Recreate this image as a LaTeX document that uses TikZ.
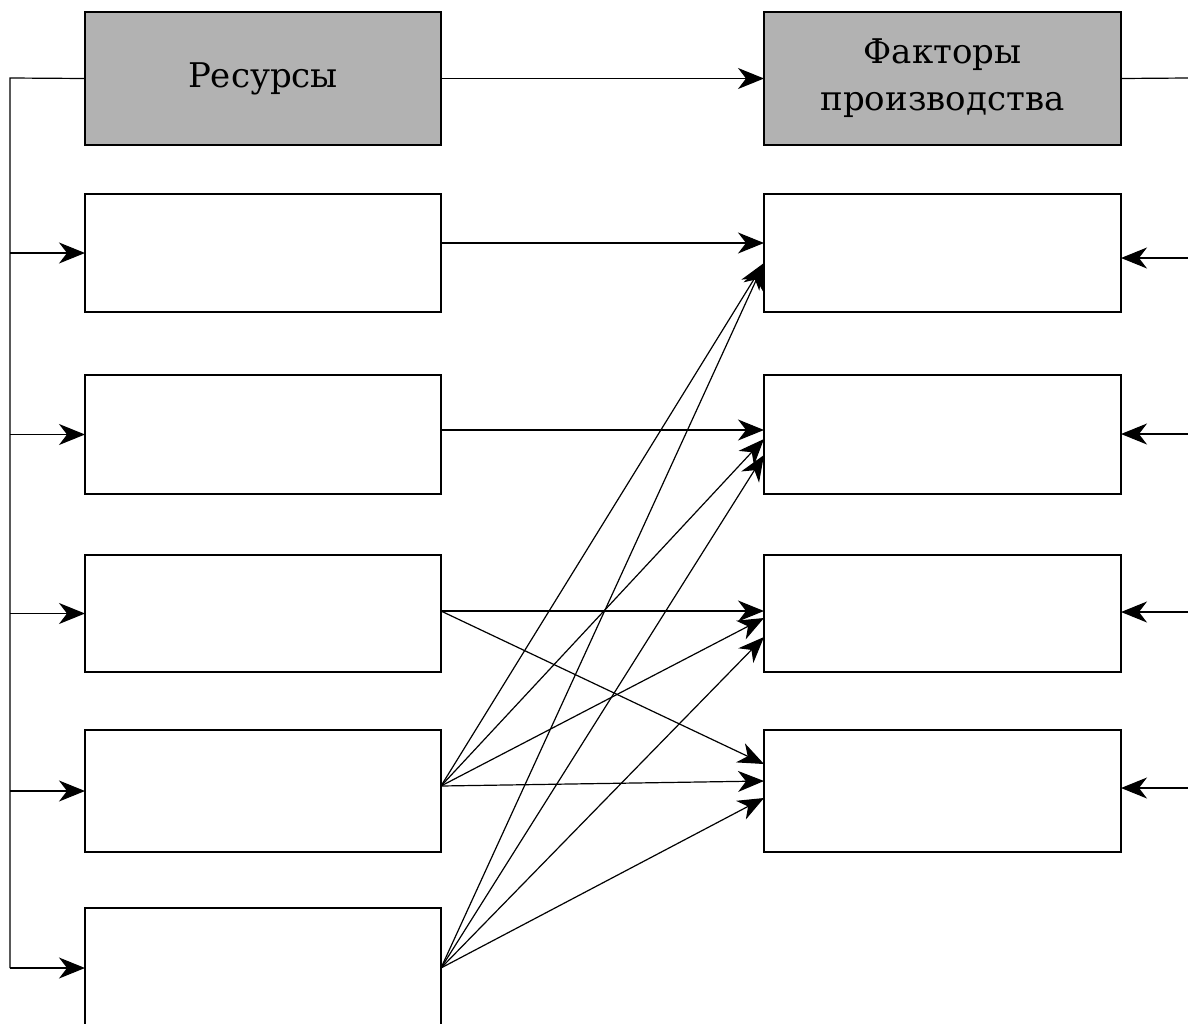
\documentclass[tikz,border=0pt]{standalone}
\usepackage{fontspec}
\setmainfont{DejaVu Serif}
\usetikzlibrary{arrows.meta}
\begin{document}
\begin{tikzpicture}[x=1pt,y=-1pt,
  box/.style={draw=black, line width=1.1pt, fill=white, minimum width=356pt, inner sep=0pt, outer sep=0pt},
  head/.style={draw=black, line width=1.1pt, fill=black!30, minimum width=356pt, inner sep=0pt, outer sep=0pt, align=center,
    font=\fontsize{34}{47}\selectfont},
  con/.style={line width=1.2pt},
  arr/.style={con, -{Stealth[length=26pt, width=21pt, inset=8pt]}}]
\useasboundingbox (0,0) rectangle (1188,1023);
\clip (0,0) rectangle (1188,1023);
% left column
\node[head, minimum height=133pt] (L1) at (263,78.5) {Ресурсы};
\node[box, minimum height=118pt] (L2) at (263,253) {};
\node[box, minimum height=119pt] (L3) at (263,434.5) {};
\node[box, minimum height=117pt] (L4) at (263,613.5) {};
\node[box, minimum height=122pt] (L5) at (263,791) {};
\node[box, minimum height=120pt] (L6) at (263,968) {};
% right column
\node[head, minimum height=133pt, minimum width=357pt] (R1) at (942.5,78.5) {Факторы\\производства};
\node[box, minimum height=118pt, minimum width=357pt] (R2) at (942.5,253) {};
\node[box, minimum height=119pt, minimum width=357pt] (R3) at (942.5,434.5) {};
\node[box, minimum height=117pt, minimum width=357pt] (R4) at (942.5,613.5) {};
\node[box, minimum height=122pt, minimum width=357pt] (R5) at (942.5,791) {};
% bus on the left
\coordinate (busTop) at (10,78);
\coordinate (busBot) at (10,968);
\draw[con] (L1.west) -- (busTop) -- (busBot);
\foreach \n in {L2,L3,L4,L5,L6}{
  \draw[arr] (busTop |- \n.west) -- (\n.west);
}
% top connections
\draw[arr] (L1.east) -- (R1.west);
\coordinate (outR1) at (1188,78);
\draw[con] (R1.east) -- (outR1);
% right incoming arrows
\coordinate (inR2) at (1188,258);
\coordinate (inR3) at (1188,434);
\coordinate (inR4) at (1188,612);
\coordinate (inR5) at (1188,788);
\draw[arr] (inR2) -- (inR2 -| R2.east);
\draw[arr] (inR3) -- (inR3 -| R3.east);
\draw[arr] (inR4) -- (inR4 -| R4.east);
\draw[arr] (inR5) -- (inR5 -| R5.east);
% cross connections
\draw[arr] ([yshift=10pt]L2.east) -- ([yshift=10pt]R2.west);
\draw[arr] ([yshift=4.5pt]L3.east) -- ([yshift=4.5pt]R3.west);
\draw[arr] ([yshift=2.5pt]L4.east) -- ([yshift=2.5pt]R4.west);
\draw[arr] ([yshift=2.5pt]L4.east) -- ([yshift=27pt]R5.west);
\draw[arr] ([yshift=5pt]L5.east) -- ([yshift=-10pt]R2.west);
\draw[arr] ([yshift=5pt]L5.east) -- ([yshift=-4.5pt]R3.west);
\draw[arr] ([yshift=5pt]L5.east) -- ([yshift=-4.5pt]R4.west);
\draw[arr] ([yshift=5pt]L5.east) -- ([yshift=10pt]R5.west);
\draw[arr] (L6.east) -- ([yshift=-10pt]R2.west);
\draw[arr] (L6.east) -- ([yshift=-20.5pt]R3.west);
\draw[arr] (L6.east) -- ([yshift=-23.5pt]R4.west);
\draw[arr] (L6.east) -- ([yshift=-7pt]R5.west);
\end{tikzpicture}
\end{document}
